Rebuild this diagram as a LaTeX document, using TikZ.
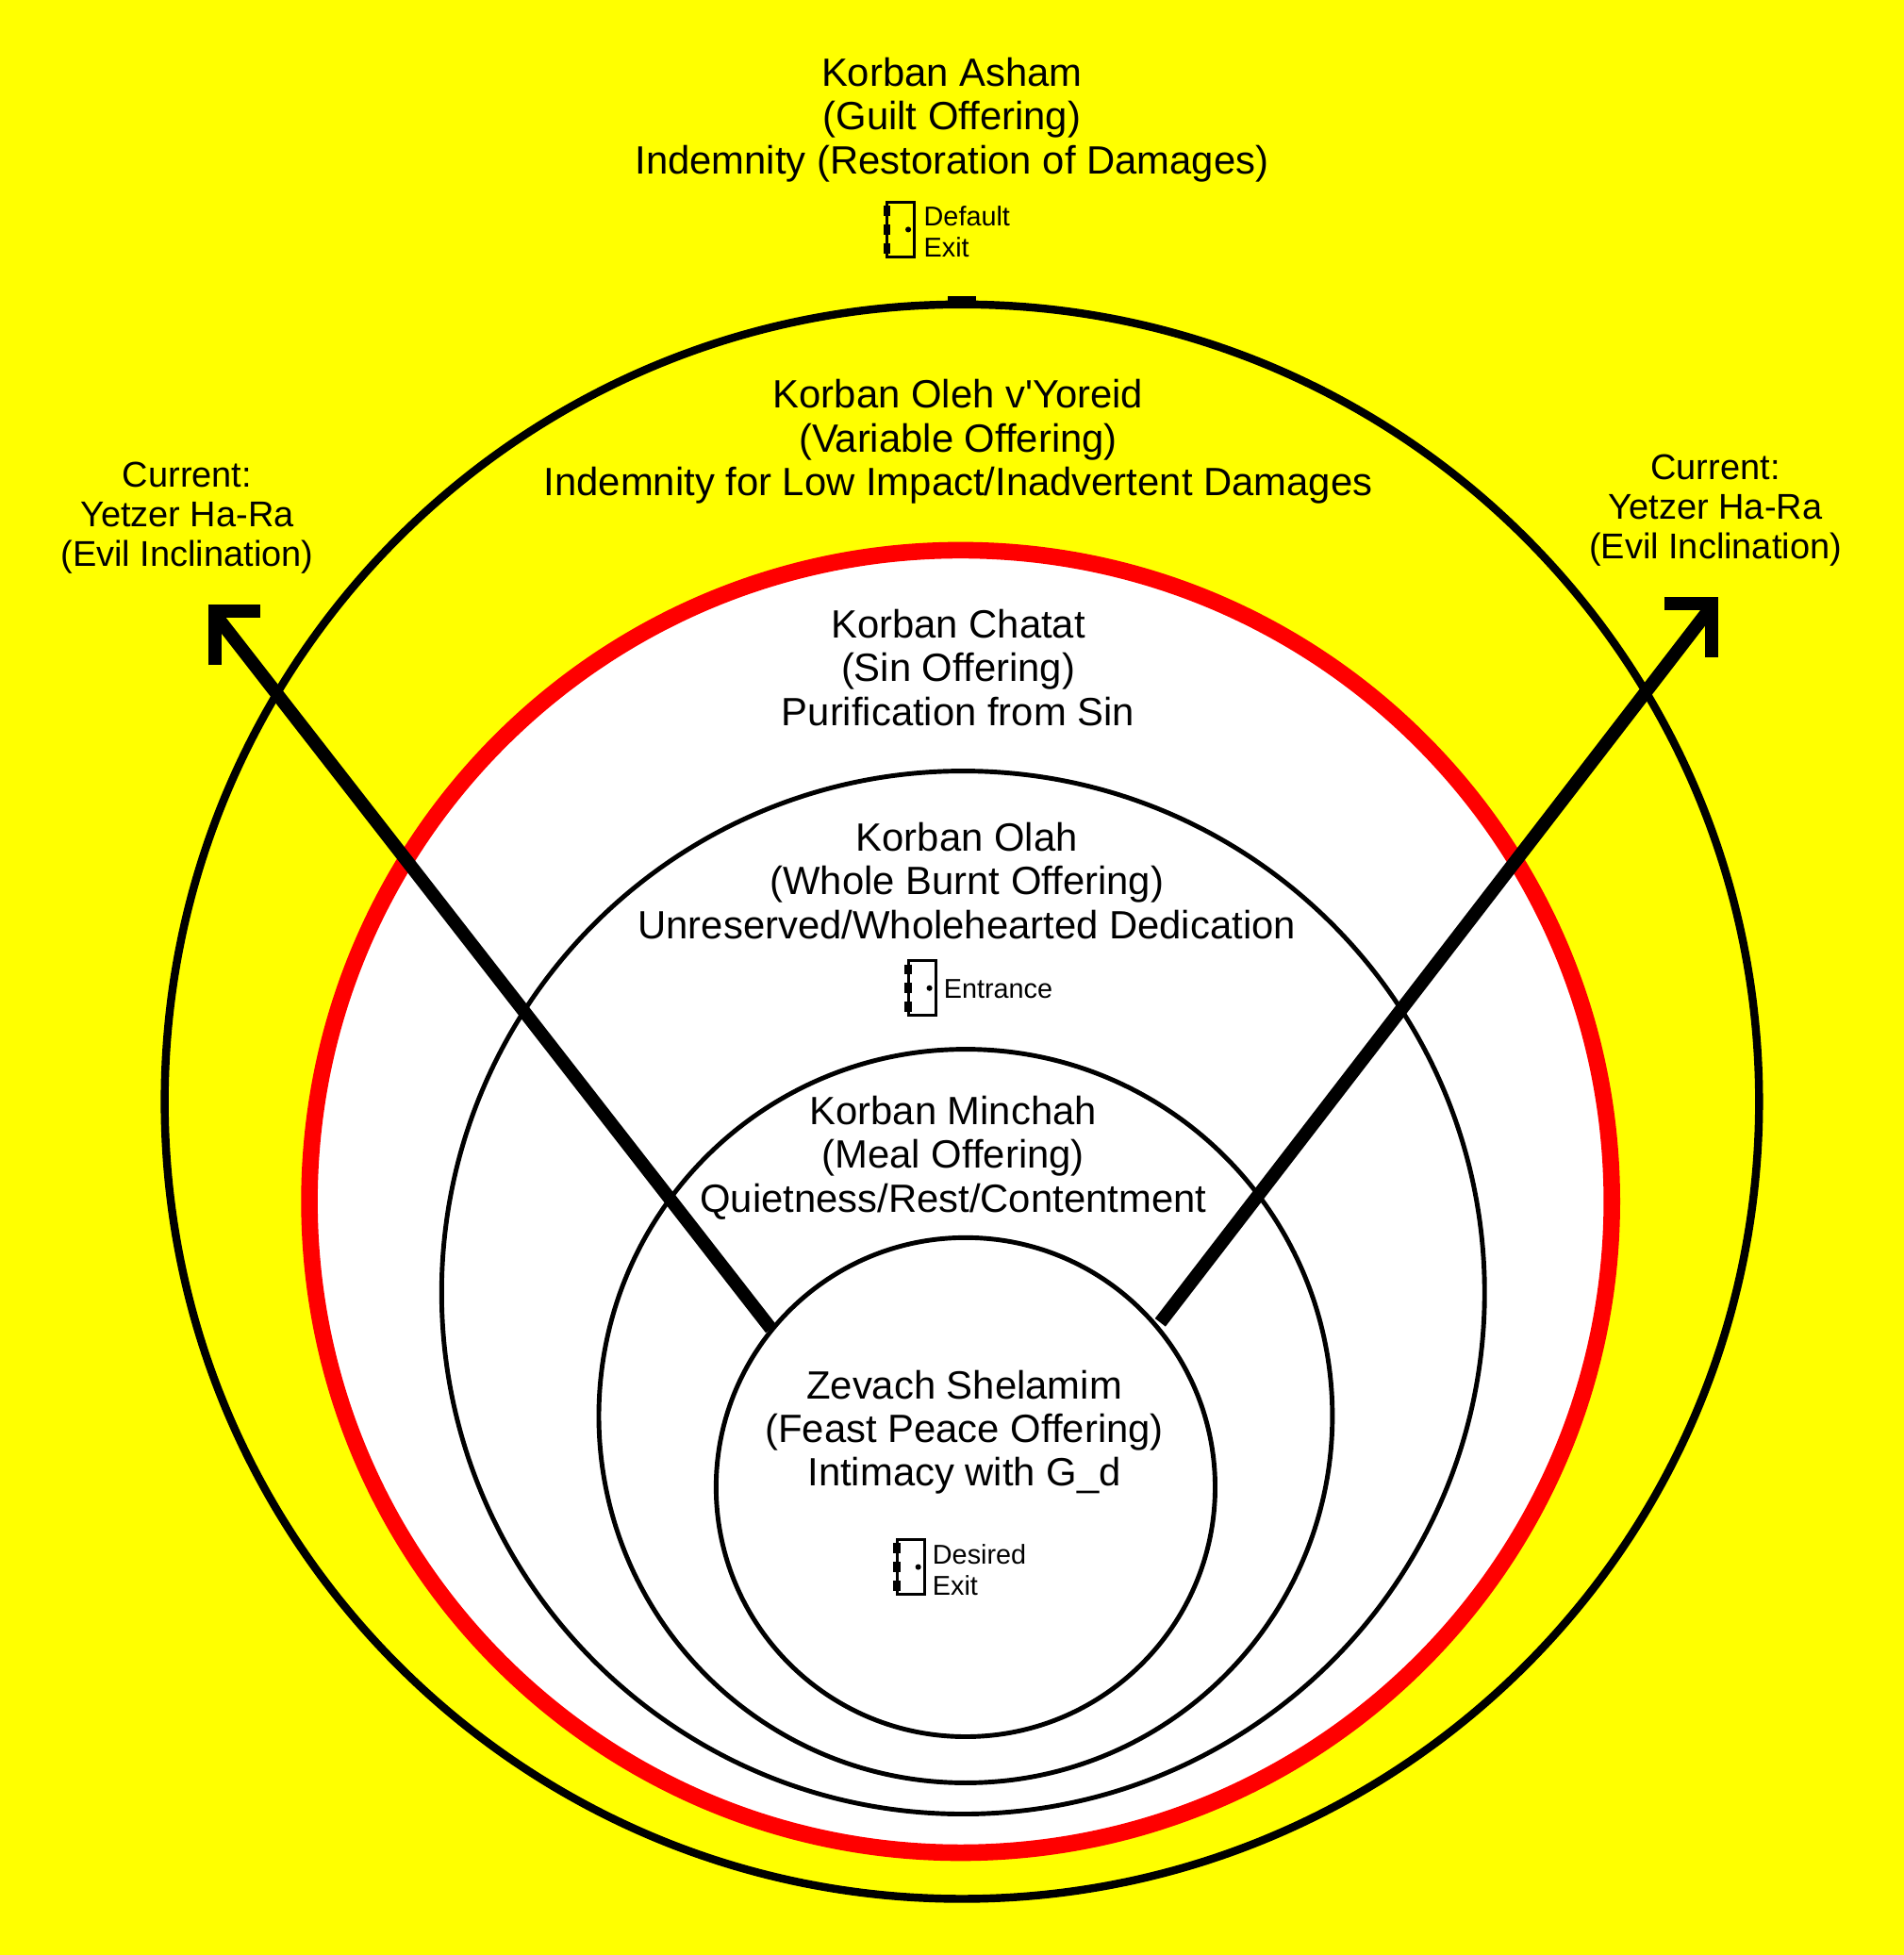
\documentclass[tikz,border=0pt]{standalone}
\usepackage{fontspec}
\setmainfont[Ligatures=NoCommon]{Liberation Sans}
\usetikzlibrary{positioning}
\definecolor{bgyellow}{RGB}{255,255,0}
\tikzset{
  lbl/.style={align=center, font=\fontsize{11.9}{13.2}\selectfont, inner sep=0pt},
  curlbl/.style={align=center, font=\fontsize{10.8}{12}\selectfont, inner sep=0pt},
  doorlbl/.style={align=left, font=\fontsize{8.2}{9.4}\selectfont, inner sep=0pt, anchor=west},
  ring/.style={draw=black, line width=1.4pt},
  door/.pic={
    \draw[line width=0.9pt] (-11,-22) rectangle (11,22);
    \foreach \hy in {-15,0,15} \draw[line width=2.2pt] (-11,\hy-4) -- (-11,\hy+4);
    \fill (6,0) circle (2.3);
  }
}
\begin{document}
\begin{tikzpicture}[x=0.013224cm, y=-0.013224cm]
\fill[bgyellow] (0,0) rectangle (1526,1567);
\useasboundingbox (0,0) rectangle (1526,1567);
% rings
\draw[line width=2.4pt] (771,883) circle (639);
\fill[white] (770,963) circle (522);
\draw[red, line width=5pt] (770,963) circle (522);
\draw[ring] (772,1036) circle (418);
\draw[ring] (774,1135) circle (294);
\draw[ring] (774,1192) circle (200);
\draw[line width=3.5pt] (760,242) -- (782,242);
% texts
\node[lbl] (asham) at (763,96) {Korban Asham\\(Guilt Offering)\\Indemnity (Restoration of Damages)};
\node[lbl] (oleh) at (768,354) {Korban Oleh v\textquotesingle Yoreid\\(Variable Offering)\\Indemnity for Low Impact/Inadvertent Damages};
\node[lbl] (chatat) at (768,535) {Korban Chatat\\(Sin Offering)\\Purification from Sin};
\node[lbl] (olah) at (775,706) {Korban Olah\\(Whole Burnt Offering)\\Unreserved/Wholehearted Dedication};
\node[lbl] (minchah) at (764,928) {Korban Minchah\\(Meal Offering)\\Quietness/Rest/Contentment};
\node[lbl] (zevach) at (773,1148) {Zevach Shelamim\\(Feast Peace Offering)\\Intimacy with G\_d};
\node[curlbl] (curl) at (150,415) {Current:\\Yetzer Ha-Ra\\(Evil Inclination)};
\node[curlbl] (curr) at (1375,409) {Current:\\Yetzer Ha-Ra\\(Evil Inclination)};
% doors
\pic at (722,184) {door};
\node[doorlbl] (dexit) at (740,186) {Default\\Exit};
\pic at (739,792) {door};
\node[doorlbl] (entr) at (756,793) {Entrance};
\pic at (730,1256) {door};
\node[doorlbl] (desexit) at (747,1258) {Desired\\Exit};
% arrows
\coordinate (la) at (618,1065);
\coordinate (lb) at (172,492);
\coordinate (ra) at (930,1060);
\coordinate (rb) at (1372,486);
\draw[line width=4pt] (la) -- (lb);
\draw[line width=4pt] (ra) -- (rb);
\draw[line width=4pt, line cap=butt] (172,533) -- (172,490) -- (209,490);
\draw[line width=4pt, line cap=butt] (1334,484) -- (1372,484) -- (1372,527);
\end{tikzpicture}
\end{document}
